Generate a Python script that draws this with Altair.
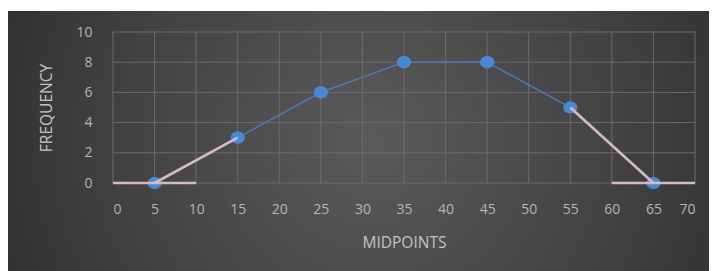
import altair as alt
import pandas as pd

# ---- data ----
midpoints = [5, 15, 25, 35, 45, 55, 65]
frequency = [0, 3, 6, 8, 8, 5, 0]

# light (pink) helper segments
seg_x1 = [0, 5, 55, 60]
seg_y1 = [0, 0, 5, 0]
seg_x2 = [10, 15, 65, 70]
seg_y2 = [0, 3, 0, 0]

x_ticks = [0, 5, 10, 15, 20, 25, 30, 35, 40, 45, 50, 55, 60, 65, 70]
y_ticks = [0, 2, 4, 6, 8, 10]

W, H = 582, 151
PAD = {"left": 105, "top": 24, "right": 14, "bottom": 88}

df = pd.DataFrame({"mid": midpoints, "freq": frequency})
seg = pd.DataFrame({"mid": seg_x1, "freq": seg_y1, "x2": seg_x2, "y2": seg_y2})
xdf = pd.DataFrame({"mid": x_ticks})
ydf = pd.DataFrame({"freq": y_ticks})

xs = alt.Scale(domain=[0, 70], nice=False, zero=False)
ys = alt.Scale(domain=[0, 10], nice=False)

xaxis = alt.Axis(
    values=x_ticks, grid=False, domain=False, ticks=False,
    labelPadding=19, title="MIDPOINTS", titlePadding=19, zindex=1,
)
yaxis = alt.Axis(
    values=y_ticks, grid=False, domain=False, ticks=False,
    labelPadding=21, title="FREQUENCY", titlePadding=21, zindex=1,
)

X = alt.X("mid:Q", scale=xs, axis=xaxis)
Y = alt.Y("freq:Q", scale=ys, axis=yaxis)

bg = alt.Chart(pd.DataFrame({"a": [0]})).mark_rect(
    fill={
        "gradient": "radial",
        "x1": 0.52, "y1": 0.5, "r1": 0,
        "x2": 0.52, "y2": 0.5, "r2": 0.72,
        "stops": [
            {"offset": 0, "color": "#5a5a5a"},
            {"offset": 0.55, "color": "#3f3f3f"},
            {"offset": 1, "color": "#242424"},
        ],
    }
).encode(
    x=alt.value(-PAD["left"]),
    x2=alt.value(W + PAD["right"]),
    y=alt.value(-21),
    y2=alt.value(H + PAD["bottom"]),
)

vgrid = alt.Chart(xdf).mark_rule(color="#6b6b6b", strokeWidth=1).encode(x=X)
hgrid = alt.Chart(ydf).mark_rule(color="#6b6b6b", strokeWidth=1).encode(y=Y)

line = alt.Chart(df).mark_line(color="#4a7fc8", strokeWidth=1.3).encode(x=X, y=Y)

points = alt.Chart(df).mark_point(
    filled=True,
    shape="M-1,0A1,0.86 0 1,0 1,0A1,0.86 0 1,0 -1,0Z",
    size=200,
    color="#4a88d4",
    opacity=1,
).encode(x=X, y=Y)

pink = alt.Chart(seg).mark_rule(color="#d6b9c6", strokeWidth=2.6).encode(
    x=X, y=Y, x2="x2:Q", y2="y2:Q",
)

chart = (
    alt.layer(bg, vgrid, hgrid, line, points, pink)
    .properties(width=W, height=H, padding=PAD, autosize=alt.AutoSizeParams(type="none"),
                background="white")
    .configure_view(stroke=None)
    .configure_axis(
        labelFont="Open Sans", labelFontSize=14, labelColor="#b5b5b5",
        titleFont="Open Sans", titleFontSize=15.5, titleFontWeight="normal", titleColor="#c4c4c4",
    )
)

chart.save("out.html", embed_options={"renderer": "svg", "actions": False})
